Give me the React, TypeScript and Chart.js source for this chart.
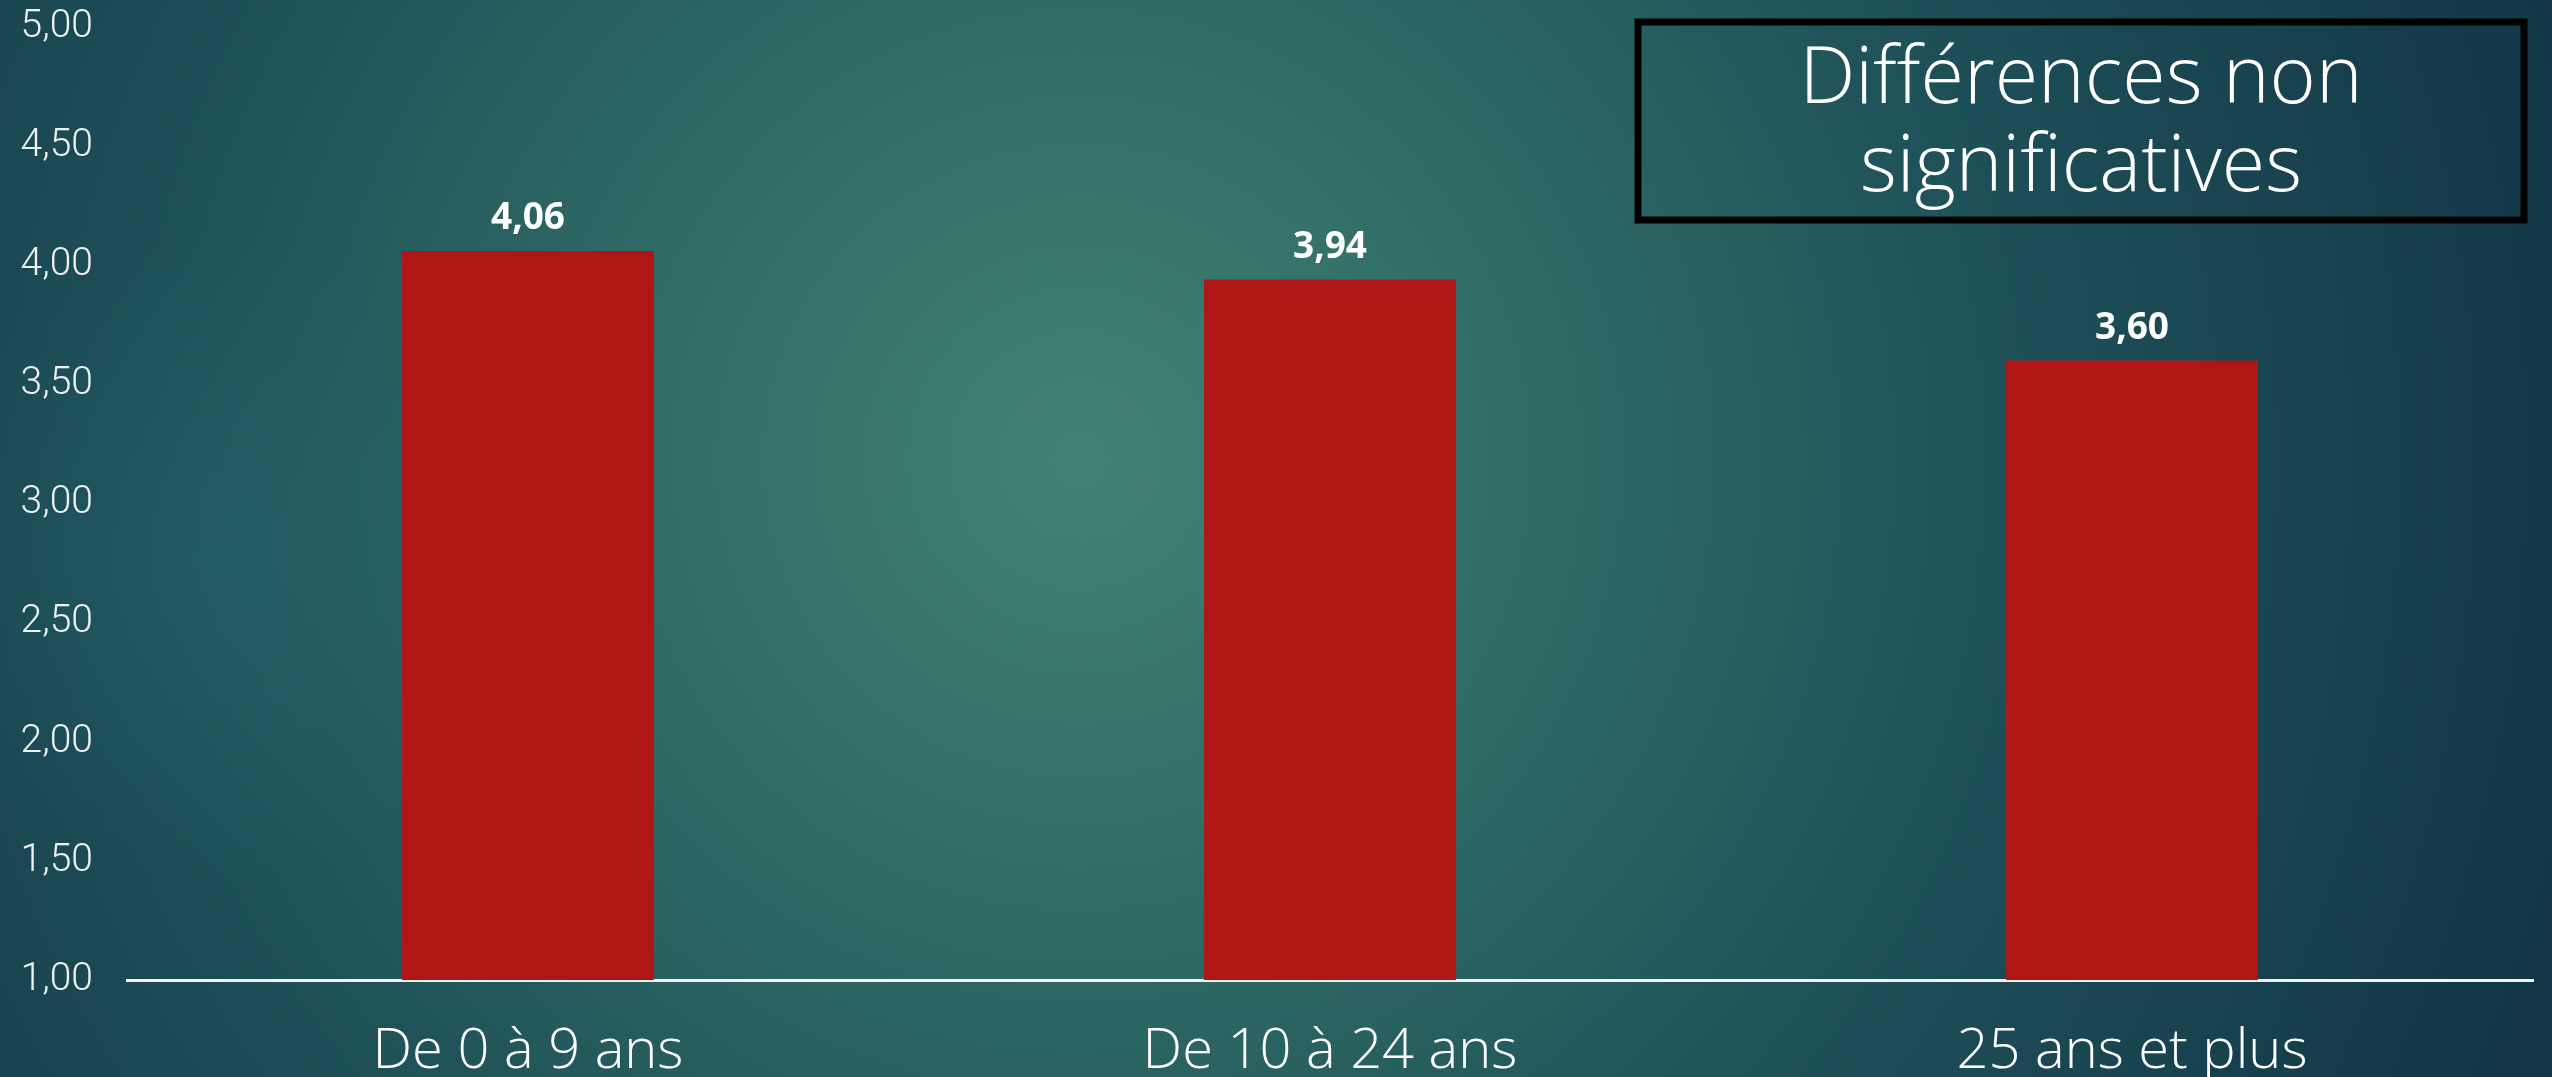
import React, { useEffect, useRef } from "react";
import { Chart, registerables } from "chart.js";

Chart.register(...registerables);

const categories = ["De 0 à 9 ans", "De 10 à 24 ans", "25 ans et plus"];
const values = [4.06, 3.94, 3.6];
const yMin = 1;
const yMax = 5;
const yStep = 0.5;
const noteLines = ["Différences non", "significatives"];

const fmt = (v: number) => v.toFixed(2).replace(".", ",");

const W = 2552;
const H = 1077;

const bgPlugin = {
  id: "bg",
  beforeDraw(chart: any) {
    const { ctx } = chart;
    ctx.save();
    const g = ctx.createRadialGradient(1080, 460, 0, 1080, 460, 1550);
    g.addColorStop(0, "rgb(66,130,116)");
    g.addColorStop(0.3, "rgb(47,107,101)");
    g.addColorStop(0.6, "rgb(30,80,88)");
    g.addColorStop(1, "rgb(18,54,70)");
    ctx.fillStyle = g;
    ctx.fillRect(0, 0, chart.width, chart.height);
    const g2 = ctx.createRadialGradient(230, 560, 0, 230, 560, 320);
    g2.addColorStop(0, "rgba(40,100,110,0.45)");
    g2.addColorStop(1, "rgba(40,100,110,0)");
    ctx.fillStyle = g2;
    ctx.fillRect(0, 0, chart.width, chart.height);
    ctx.restore();
  },
};

const labelPlugin = {
  id: "valueLabels",
  afterDatasetsDraw(chart: any) {
    const { ctx } = chart;
    const meta = chart.getDatasetMeta(0);
    ctx.save();
    ctx.fillStyle = "#ffffff";
    ctx.font = "bold 37px 'Open Sans', 'Lato', sans-serif";
    ctx.textAlign = "center";
    ctx.textBaseline = "alphabetic";
    meta.data.forEach((bar: any, i: number) => {
      ctx.fillText(fmt(values[i]), bar.x, bar.y - 22);
    });
    ctx.restore();
  },
};

const notePlugin = {
  id: "noteBox",
  afterDraw(chart: any) {
    const { ctx } = chart;
    ctx.save();
    const x = 1638, y = 22, w = 886, h = 198;
    ctx.strokeStyle = "#000000";
    ctx.lineWidth = 7;
    ctx.strokeRect(x, y, w, h);
    ctx.fillStyle = "#ffffff";
    ctx.font = "300 79px 'Open Sans', 'Lato', sans-serif";
    ctx.textAlign = "center";
    ctx.textBaseline = "middle";
    ctx.fillText(noteLines[0], x + w / 2, 80);
    ctx.fillText(noteLines[1], x + w / 2, 168);
    ctx.restore();
  },
};

export default function App() {
  const ref = useRef<HTMLCanvasElement>(null);
  useEffect(() => {
    document.body.style.margin = "0";
    const chart = new Chart(ref.current!, {
      type: "bar",
      data: {
        labels: categories,
        datasets: [
          {
            data: values,
            backgroundColor: "#b01615",
            borderWidth: 0,
            categoryPercentage: 1,
            barPercentage: 0.314,
          },
        ],
      },
      options: {
        responsive: false,
        animation: false,
        maintainAspectRatio: false,
        layout: { padding: { top: 0, right: 19, left: 0, bottom: 0 } },
        plugins: {
          legend: { display: false },
          tooltip: { enabled: false },
        },
        scales: {
          x: {
            grid: { display: false, drawTicks: false },
            border: { display: true, color: "#f2f2f2", width: 3 },
            ticks: {
              color: "#ffffff",
              font: { family: "'Open Sans', 'Lato', sans-serif", size: 56, weight: "300" as any },
              padding: 38,
              maxRotation: 0,
            },
            afterFit(scale: any) {
              scale.height = 97;
            },
          },
          y: {
            min: yMin,
            max: yMax,
            grid: { display: false, drawTicks: false },
            border: { display: false },
            ticks: {
              stepSize: yStep,
              color: "#eef2f2",
              font: { family: "Roboto, 'Open Sans', sans-serif", size: 39, weight: "300" as any },
              padding: 34,
              callback: (v: any) => fmt(Number(v)),
            },
            afterFit(scale: any) {
              scale.width = 127;
              scale.paddingTop = 27;
              scale.paddingBottom = 0;
            },
          },
        },
      },
      plugins: [bgPlugin, labelPlugin, notePlugin],
    });
    return () => chart.destroy();
  }, []);
  return (
    <div style={{ position: "fixed", left: 0, top: 0, width: W, height: H }}>
      <canvas ref={ref} width={W} height={H} style={{ width: W, height: H, display: "block" }} />
    </div>
  );
}
